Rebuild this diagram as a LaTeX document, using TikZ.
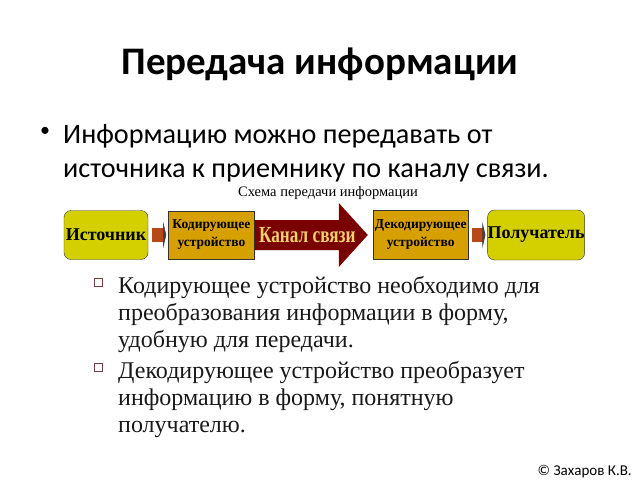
\documentclass[tikz,border=0pt]{standalone}
\usepackage{fontspec}
\setmainfont{Carlito}
\newfontfamily\timesfont{Liberation Serif}
\usepackage{tikz}
\usetikzlibrary{positioning,arrows.meta}

\definecolor{boxyellow}{RGB}{212,208,0}
\definecolor{boxgold}{RGB}{214,160,0}
\definecolor{chanred}{RGB}{122,0,0}
\definecolor{linkbrown}{RGB}{184,72,24}
\definecolor{chantext}{RGB}{238,208,110}
\definecolor{bulletred}{RGB}{120,60,60}

\tikzset{
    endbox/.style={draw=black!80,fill=boxyellow,rounded corners=7pt,inner sep=0pt,
        font=\timesfont\bfseries\fontsize{18}{20}\selectfont},
    devbox/.style={draw=black!80,fill=boxgold,inner sep=0pt,align=center,
        font=\timesfont\bfseries\fontsize{13.5}{18}\selectfont},
    chan/.style={inner sep=0pt,minimum width=113pt,minimum height=64pt,text=chantext,
        font=\timesfont\bfseries\fontsize{23}{26}\selectfont,
        path picture={\fill[chanred] ([yshift=15pt]path picture bounding box.west)
            -- ([xshift=-29pt,yshift=15pt]path picture bounding box.east)
            -- ([xshift=-29pt]path picture bounding box.north east)
            -- (path picture bounding box.east)
            -- ([xshift=-29pt]path picture bounding box.south east)
            -- ([xshift=-29pt,yshift=-15pt]path picture bounding box.east)
            -- ([yshift=-15pt]path picture bounding box.west) -- cycle;}},
    link/.style={linkbrown,line width=14pt,shorten <=4pt,shorten >=2pt,
        -{Triangle[length=3pt,width=26pt,line width=0.6pt,color=black!75]}},
}

\begin{document}
\begin{tikzpicture}[x=1pt,y=-1pt]
    \useasboundingbox (0,0) rectangle (640,480);
    \node (title) at (320,74)[anchor=base,font=\bfseries\fontsize{39}{44}\selectfont] {Передача информации};
    \node (dot) at (45,132)[font=\fontsize{20}{24}\selectfont] {•};
    % base of a wrapped node is its last line
    \node (intro) at (63,177)[anchor=base west,align=left,inner sep=0pt,font=\fontsize{28.2}{34}\selectfont]
        {Информацию можно передавать от\\источника к приемнику по каналу связи.};
    \node (caption) at (328,193)[font=\timesfont\fontsize{14.5}{16}\selectfont] {Схема передачи информации};
    % chain of the scheme
    \node (src) at (106,235)[endbox,minimum width=84pt,minimum height=49pt] {Источник};
    \node (enc) [devbox,right=20pt of src,minimum width=86pt,minimum height=48pt] {Кодирующее\\устройство};
    \node (line) [chan,right=0pt of enc] {\scalebox{0.75}[1]{Канал связи}\hspace*{8pt}};
    \node (dec) [devbox,right=5pt of line,minimum width=95pt,minimum height=49pt] {Декодирующее\\устройство};
    \node (dst) [endbox,right=19pt of dec,minimum width=97pt,minimum height=50pt] {Получатель};
    \draw [link] (src) -- (enc);
    \draw [link] (dec) -- (dst);
    % lower list
    \foreach \y in {282,367}
        \node at (98,\y)[draw=bulletred,line width=0.8pt,minimum size=8pt,inner sep=0pt] {};
    \node (need) at (118,347)[anchor=base west,align=left,inner sep=0pt,text=black!90,
        font=\timesfont\fontsize{24}{27}\selectfont]
        {Кодирующее устройство необходимо для\\преобразования информации в форму,\\удобную для передачи.};
    \node (back) at (118,432)[anchor=base west,align=left,inner sep=0pt,text=black!90,
        font=\timesfont\fontsize{24}{27}\selectfont]
        {Декодирующее устройство преобразует\\информацию в форму, понятную\\получателю.};
    \node (copy) at (632,475)[anchor=base east,inner sep=0pt,font=\fontsize{15}{17}\selectfont] {© Захаров К.В.};
\end{tikzpicture}
\end{document}
